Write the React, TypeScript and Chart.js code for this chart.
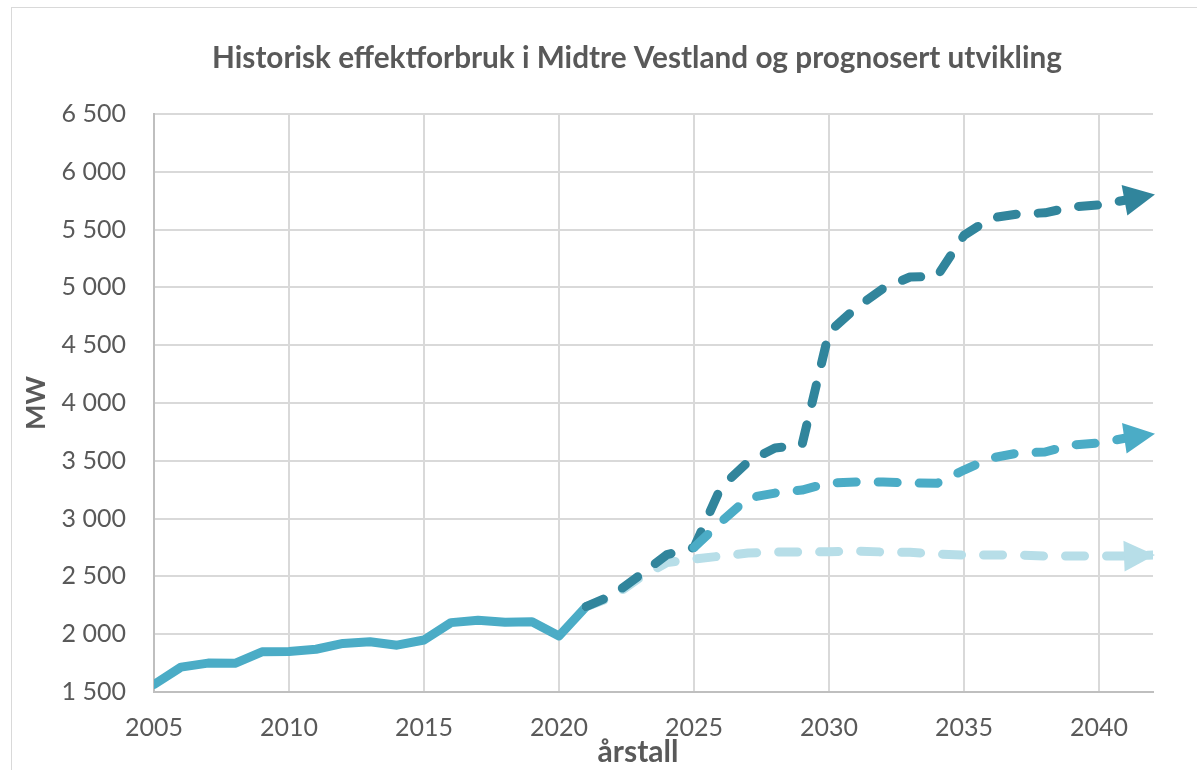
import React, { useEffect, useRef } from 'react';
import { Chart, registerables } from 'chart.js';

Chart.register(...registerables);

// ---------- data ----------
const TITLE = 'Historisk effektforbruk i Midtre Vestland og prognosert utvikling';
const X_TITLE = 'årstall';
const Y_TITLE = 'MW';

const histYears = [2005, 2006, 2007, 2008, 2009, 2010, 2011, 2012, 2013, 2014, 2015, 2016, 2017, 2018, 2019, 2020, 2021];
const histValues = [1565, 1715, 1750, 1748, 1848, 1850, 1870, 1920, 1935, 1905, 1950, 2100, 2120, 2103, 2108, 1985, 2238];

const progYears = [2021, 2022, 2023, 2024, 2025, 2026, 2027, 2028, 2029, 2030, 2031, 2032, 2033, 2034, 2035, 2036, 2037, 2038, 2039, 2040, 2041, 2042];
const progHoy = [2238, 2340, 2512, 2688, 2750, 3272, 3490, 3611, 3637, 4614, 4822, 4990, 5090, 5095, 5450, 5600, 5635, 5645, 5696, 5713, 5756, 5800];
const progMiddels = [null, null, null, null, 2750, 2971, 3178, 3221, 3247, 3308, 3317, 3317, 3308, 3305, 3420, 3524, 3567, 3576, 3637, 3654, 3697, 3732];
const progLav = [2238, 2325, 2490, 2620, 2650, 2676, 2702, 2711, 2711, 2713, 2720, 2711, 2708, 2694, 2685, 2685, 2685, 2676, 2676, 2676, 2676, 2685];

const xTickValues = [2005, 2010, 2015, 2020, 2025, 2030, 2035, 2040];

const COL_HIST = '#4BACC6';
const COL_HOY = '#31859C';
const COL_MID = '#4BACC6';
const COL_LAV = '#B7DEE8';
const TEXT = '#595959';

const toXY = (xs: number[], ys: (number | null)[]) => xs.map((x, i) => ({ x, y: ys[i] }));

function fitSize(ctx: CanvasRenderingContext2D, text: string, weight: string, family: string, target: number, max: number) {
  ctx.font = `${weight} 100px ${family}`;
  const w = ctx.measureText(text).width;
  return Math.min(max, (100 * target) / w);
}

const arrowPlugin = {
  id: 'arrowHeads',
  afterDatasetsDraw(chart: any) {
    const ctx = chart.ctx as CanvasRenderingContext2D;
    chart.data.datasets.forEach((ds: any, i: number) => {
      if (!ds.arrow) return;
      const pts = chart.getDatasetMeta(i).data;
      let last: any = null;
      let prev: any = null;
      for (let k = pts.length - 1; k >= 0; k--) {
        if (pts[k].skip) continue;
        if (!last) last = pts[k];
        else { prev = pts[k]; break; }
      }
      if (!last || !prev) return;
      const ang = Math.atan2(last.y - prev.y, last.x - prev.x);
      const L = 31, H = 15.5;
      const tx = last.x + Math.cos(ang) * 2;
      const ty = last.y + Math.sin(ang) * 2;
      const bx = tx - Math.cos(ang) * L;
      const by = ty - Math.sin(ang) * L;
      ctx.save();
      ctx.fillStyle = ds.borderColor;
      ctx.beginPath();
      ctx.moveTo(tx, ty);
      ctx.lineTo(bx - Math.sin(ang) * H, by + Math.cos(ang) * H);
      ctx.lineTo(bx + Math.sin(ang) * H, by - Math.cos(ang) * H);
      ctx.closePath();
      ctx.fill();
      ctx.restore();
    });
  },
};

const textPlugin = {
  id: 'chartTexts',
  afterDraw(chart: any) {
    const ctx = chart.ctx as CanvasRenderingContext2D;
    ctx.save();
    ctx.fillStyle = TEXT;
    ctx.textAlign = 'center';
    ctx.textBaseline = 'alphabetic';
    let s = fitSize(ctx, TITLE, 'bold', 'Lato', 850, 30);
    ctx.font = `bold ${s}px Lato`;
    ctx.fillText(TITLE, chart.width / 2, 60);
    s = fitSize(ctx, X_TITLE, 'bold', 'Lato', 81, 30);
    ctx.font = `bold ${s}px Lato`;
    ctx.fillText(X_TITLE, chart.width / 2 + 1, 754);
    ctx.restore();
  },
};

const dashed = (label: string, xs: number[], ys: (number | null)[], color: string, order: number) => ({
  label,
  data: toXY(xs, ys),
  borderColor: color,
  backgroundColor: color,
  borderWidth: 9,
  borderDash: [19, 22],
  borderCapStyle: 'round',
  borderJoinStyle: 'round',
  pointRadius: 0,
  pointHoverRadius: 0,
  tension: 0,
  clip: 0,
  order,
  arrow: true,
});

export default function App() {
  const ref = useRef<HTMLCanvasElement | null>(null);

  useEffect(() => {
    if (!ref.current) return;
    const chart = new Chart(ref.current, {
      type: 'line',
      data: {
        datasets: [
          {
            label: 'Historisk',
            data: toXY(histYears, histValues),
            borderColor: COL_HIST,
            backgroundColor: COL_HIST,
            borderWidth: 9,
            borderCapStyle: 'round',
            borderJoinStyle: 'round',
            pointRadius: 0,
            pointHoverRadius: 0,
            tension: 0,
            clip: 0,
            order: 3,
          } as any,
          dashed('Lav', progYears, progLav, COL_LAV, 2) as any,
          dashed('Høy', progYears, progHoy, COL_HOY, 1) as any,
          dashed('Middels', progYears, progMiddels, COL_MID, 0) as any,
        ],
      },
      options: {
        responsive: false,
        animation: false,
        devicePixelRatio: 1,
        events: [],
        layout: { padding: { left: 0, top: 106, right: 109, bottom: 0 } },
        plugins: {
          legend: { display: false },
          title: { display: false },
          tooltip: { enabled: false },
        },
        scales: {
          x: {
            type: 'linear',
            min: 2005,
            max: 2042,
            afterBuildTicks: (scale: any) => {
              scale.ticks = xTickValues.map((v) => ({ value: v }));
            },
            afterFit: (scale: any) => { scale.height = 116; },
            grid: {
              color: (c: any) => (c.tick && c.tick.value === 2005 ? 'rgba(0,0,0,0)' : '#d9d9d9'),
              lineWidth: 2,
              drawTicks: false,
            },
            border: { display: true, color: '#bfbfbf', width: 2 },
            ticks: {
              color: TEXT,
              font: { family: 'Lato', size: 25 },
              padding: 21,
              maxRotation: 0,
              autoSkip: false,
              callback: (v: any) => String(v),
            },
          },
          y: {
            type: 'linear',
            min: 1500,
            max: 6500,
            afterFit: (scale: any) => { scale.width = 142; },
            grid: {
              color: (c: any) => (c.tick && c.tick.value === 1500 ? 'rgba(0,0,0,0)' : '#d9d9d9'),
              lineWidth: 2,
              drawTicks: false,
            },
            border: { display: true, color: '#bfbfbf', width: 2 },
            ticks: {
              stepSize: 500,
              color: TEXT,
              font: { family: 'Lato', size: 25 },
              padding: 28,
              callback: (v: any) => String(v).replace(/\B(?=(\d{3})+(?!\d))/g, ' '),
            },
            title: {
              display: true,
              text: Y_TITLE,
              color: TEXT,
              font: { family: 'Lato', size: 27, weight: 'bold' },
              padding: { top: 8, bottom: 0 },
            },
          },
        },
      } as any,
      plugins: [arrowPlugin, textPlugin],
    });
    return () => chart.destroy();
  }, []);

  return (
    <div style={{ position: 'fixed', inset: 0, overflow: 'hidden', background: '#fff' }}>
      <div
        style={{
          position: 'absolute',
          left: 11,
          top: 7,
          width: 1250,
          height: 800,
          border: '1px solid #d9d9d9',
          background: '#fff',
        }}
      >
        <canvas ref={ref} width={1250} height={800} style={{ display: 'block', width: 1250, height: 800 }} />
      </div>
    </div>
  );
}
